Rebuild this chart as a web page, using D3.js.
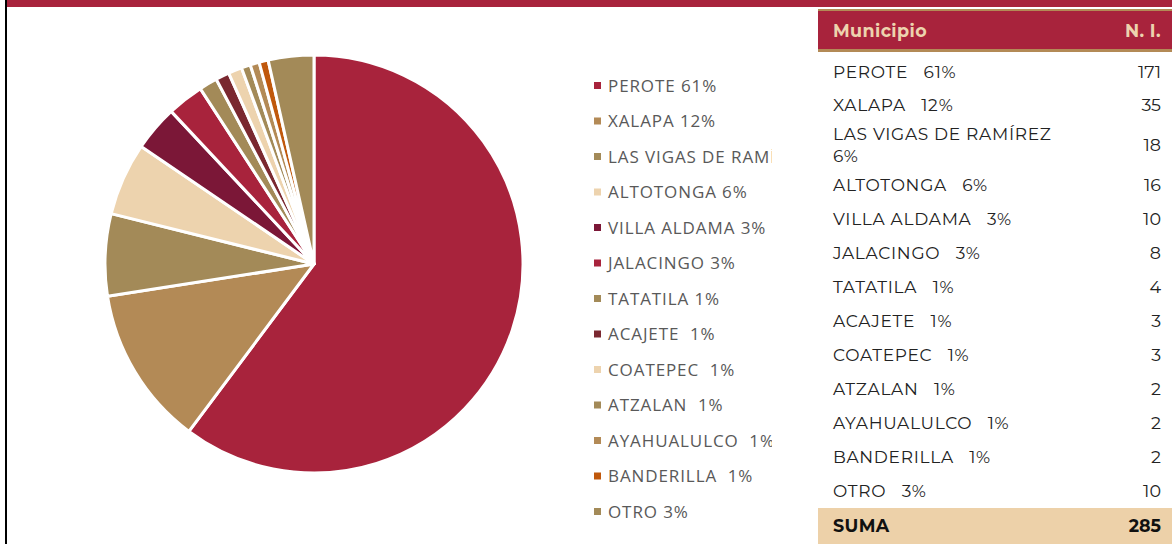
<!DOCTYPE html>
<html>
<head>
<meta charset="utf-8">
<script src="https://cdn.jsdelivr.net/npm/d3@7"></script>
<style>
  body { margin: 0; background: #fff; }
  svg { display: block; }
</style>
</head>
<body>
<svg id="chart" width="1172" height="544"></svg>
<script>
// data
var pie_names = ["PEROTE", "XALAPA", "LAS VIGAS DE RAMÍREZ", "ALTOTONGA", "VILLA ALDAMA", "JALACINGO", "TATATILA", "ACAJETE", "COATEPEC", "ATZALAN", "AYAHUALULCO", "BANDERILLA", "OTRO"];
var pie_values = [171, 35, 18, 16, 10, 8, 4, 3, 3, 2, 2, 2, 10];
var pie_colors = ["#a8233c", "#b38a56", "#a38a58", "#edd3ae", "#7b1737", "#a8233c", "#a38a58", "#7a2830", "#edd3ae", "#a38a58", "#b38a56", "#c0580c", "#a38a58"];
var legend_labels = ["PEROTE 61%", "XALAPA 12%", "LAS VIGAS DE RAMÍREZ 6%", "ALTOTONGA 6%", "VILLA ALDAMA 3%", "JALACINGO 3%", "TATATILA 1%", "ACAJETE  1%", "COATEPEC  1%", "ATZALAN  1%", "AYAHUALULCO  1%", "BANDERILLA  1%", "OTRO 3%"];
var table_labels = [["PEROTE   61%"], ["XALAPA   12%"], ["LAS VIGAS DE RAMÍREZ", "6%"], ["ALTOTONGA   6%"], ["VILLA ALDAMA   3%"], ["JALACINGO   3%"], ["TATATILA   1%"], ["ACAJETE   1%"], ["COATEPEC   1%"], ["ATZALAN   1%"], ["AYAHUALULCO   1%"], ["BANDERILLA   1%"], ["OTRO   3%"]];
var table_total = 285;

var svg = d3.select("#chart");

// frame: red band on top, black line on left
svg.append("rect").attr("x", 7).attr("y", 0).attr("width", 1165).attr("height", 7).attr("fill", "#a8233c");
svg.append("rect").attr("x", 5).attr("y", 0).attr("width", 2).attr("height", 544).attr("fill", "#000");

// pie
var pie_radius = 209;
var pie_g = svg.append("g").attr("transform", "translate(314,264)");
var pie = d3.pie().value(function(d) { return d; }).sort(null);
var arc = d3.arc().innerRadius(0).outerRadius(pie_radius);
pie_g.selectAll("path").data(pie(pie_values)).enter().append("path")
  .attr("d", arc)
  .attr("fill", function(d, i) { return pie_colors[i]; })
  .attr("stroke", "#fff").attr("stroke-width", 3).attr("stroke-linejoin", "round");

// legend (clipped on the right like the original)
var defs = svg.append("defs");
defs.append("clipPath").attr("id", "legclip").append("rect").attr("x", 580).attr("y", 60).attr("width", 192).attr("height", 480);
var legend_y = d3.scalePoint().domain(d3.range(legend_labels.length)).range([86, 512]);
var leg = svg.append("g").attr("clip-path", "url(#legclip)");
var leg_rows = leg.selectAll("g").data(legend_labels).enter().append("g")
  .attr("transform", function(d, i) { return "translate(0," + legend_y(i) + ")"; });
leg_rows.append("rect").attr("x", 594).attr("y", -4).attr("width", 7).attr("height", 7)
  .attr("fill", function(d, i) { return pie_colors[i]; });
leg_rows.append("text").attr("x", 608).attr("y", 0).attr("dy", "0.35em")
  .style("font-family", "'Open Sans', sans-serif").style("font-size", "17px").style("letter-spacing", "0.9px").style("fill", "#595959")
  .style("white-space", "pre").attr("xml:space", "preserve")
  .text(function(d) { return d; });

// table
var tx0 = 818, tx1 = 1172;
var head_font = "'Montserrat', 'Lato', 'Open Sans', sans-serif";
svg.append("rect").attr("x", tx0).attr("y", 9).attr("width", tx1 - tx0).attr("height", 42).attr("fill", "#a8233c");
svg.append("rect").attr("x", tx0).attr("y", 9).attr("width", tx1 - tx0).attr("height", 2).attr("fill", "#b38a56");
svg.append("rect").attr("x", tx0).attr("y", 49).attr("width", tx1 - tx0).attr("height", 3).attr("fill", "#b38a56");
svg.append("text").attr("x", 833).attr("y", 31).attr("dy", "0.35em")
  .style("font-family", head_font).style("font-weight", "bold").style("font-size", "17.5px").style("letter-spacing", "0.4px").style("fill", "#edd3ae")
  .text("Municipio");
svg.append("text").attr("x", 1161).attr("y", 31).attr("dy", "0.35em").attr("text-anchor", "end")
  .style("font-family", head_font).style("font-weight", "bold").style("font-size", "17.5px").style("letter-spacing", "0.4px").style("fill", "#edd3ae")
  .text("N. I.");

var row_y = [72, 105, 145, 185, 219, 253, 287, 321, 355, 389, 423, 457, 491];
var rows = svg.append("g").selectAll("g").data(pie_values).enter().append("g")
  .attr("transform", function(d, i) { return "translate(0," + row_y[i] + ")"; });
rows.each(function(d, i) {
  var g = d3.select(this);
  var lines = table_labels[i];
  var label = g.append("text").attr("x", 833).attr("y", 0)
    .attr("xml:space", "preserve").style("white-space", "pre")
    .style("font-family", head_font).style("font-size", "17px").style("letter-spacing", "0.7px").style("fill", "#222");
  lines.forEach(function(line, k) {
    label.append("tspan").attr("x", 833).attr("y", (k - (lines.length - 1) / 2) * 22).attr("dy", "0.35em")
      .text(line);
  });
  g.append("text").attr("x", 1161).attr("y", 0).attr("dy", "0.35em").attr("text-anchor", "end")
    .style("font-family", head_font).style("font-size", "17.5px").style("fill", "#222")
    .text(d);
});

svg.append("rect").attr("x", tx0).attr("y", 508).attr("width", tx1 - tx0).attr("height", 36).attr("fill", "#edd1a9");
svg.append("text").attr("x", 833).attr("y", 526).attr("dy", "0.35em")
  .style("font-family", head_font).style("font-weight", "bold").style("font-size", "17.5px").style("letter-spacing", "0.4px").style("fill", "#111")
  .text("SUMA");
svg.append("text").attr("x", 1161).attr("y", 526).attr("dy", "0.35em").attr("text-anchor", "end")
  .style("font-family", head_font).style("font-weight", "bold").style("font-size", "17.5px").style("fill", "#111")
  .text(table_total);
</script>
</body>
</html>
